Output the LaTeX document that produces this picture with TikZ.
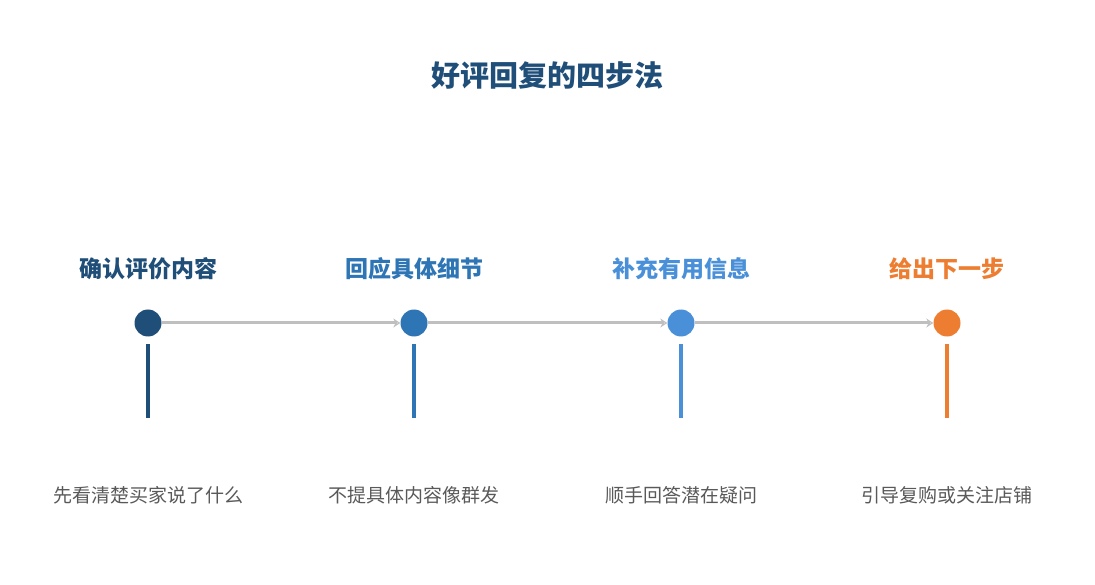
\documentclass[tikz,border=0pt]{standalone}
\usepackage{fontspec}
\newfontfamily\cjk{Noto Sans CJK SC}
\usetikzlibrary{arrows.meta}
\definecolor{stepa}{HTML}{1F4E79}
\definecolor{stepb}{HTML}{2E75B6}
\definecolor{stepc}{HTML}{4A90D9}
\definecolor{stepd}{HTML}{ED7D31}
\definecolor{flowgray}{HTML}{BFBFBF}
\definecolor{descgray}{HTML}{595959}
\tikzset{
 dot/.style={circle, minimum size=27pt, inner sep=0pt},
 steptitle/.style={font=\cjk\bfseries\fontsize{23}{27}\selectfont},
 stepdesc/.style={font=\cjk\fontsize{19}{23}\selectfont, text=descgray},
 flow/.style={draw=flowgray, line width=3pt, -{Stealth[length=7pt, width=9pt, open]}},
 stem/.style={line width=4pt, line cap=butt}
}
\begin{document}
\begin{tikzpicture}[x=1pt, y=-1pt, line join=round]
 \useasboundingbox (0,0) rectangle (1095,585);
 \node[font=\cjk\bfseries\fontsize{29}{33}\selectfont, text=stepa] (title) at (547,75) {好评回复的四步法};
 \foreach \i/\x/\c/\t/\d in {1/148/stepa/确认评价内容/先看清楚买家说了什么,
 2/414/stepb/回应具体细节/不提具体内容像群发,
 3/681/stepc/补充有用信息/顺手回答潜在疑问,
 4/947/stepd/给出下一步/引导复购或关注店铺}{
 \node[dot, fill=\c] (c\i) at (\x,323) {};
 \node[steptitle, text=\c] (t\i) at (\x,269) {\t};
 \node[stepdesc] (d\i) at (\x,495) {\d};
 \coordinate (s\i) at (\x,344);
 \coordinate (e\i) at (\x,418);
 \draw[stem, draw=\c] (s\i) -- (e\i);
 }
 \foreach \i/\j in {1/2,2/3,3/4}{
 \draw[flow] (c\i) -- (c\j);}
\end{tikzpicture}
\end{document}
